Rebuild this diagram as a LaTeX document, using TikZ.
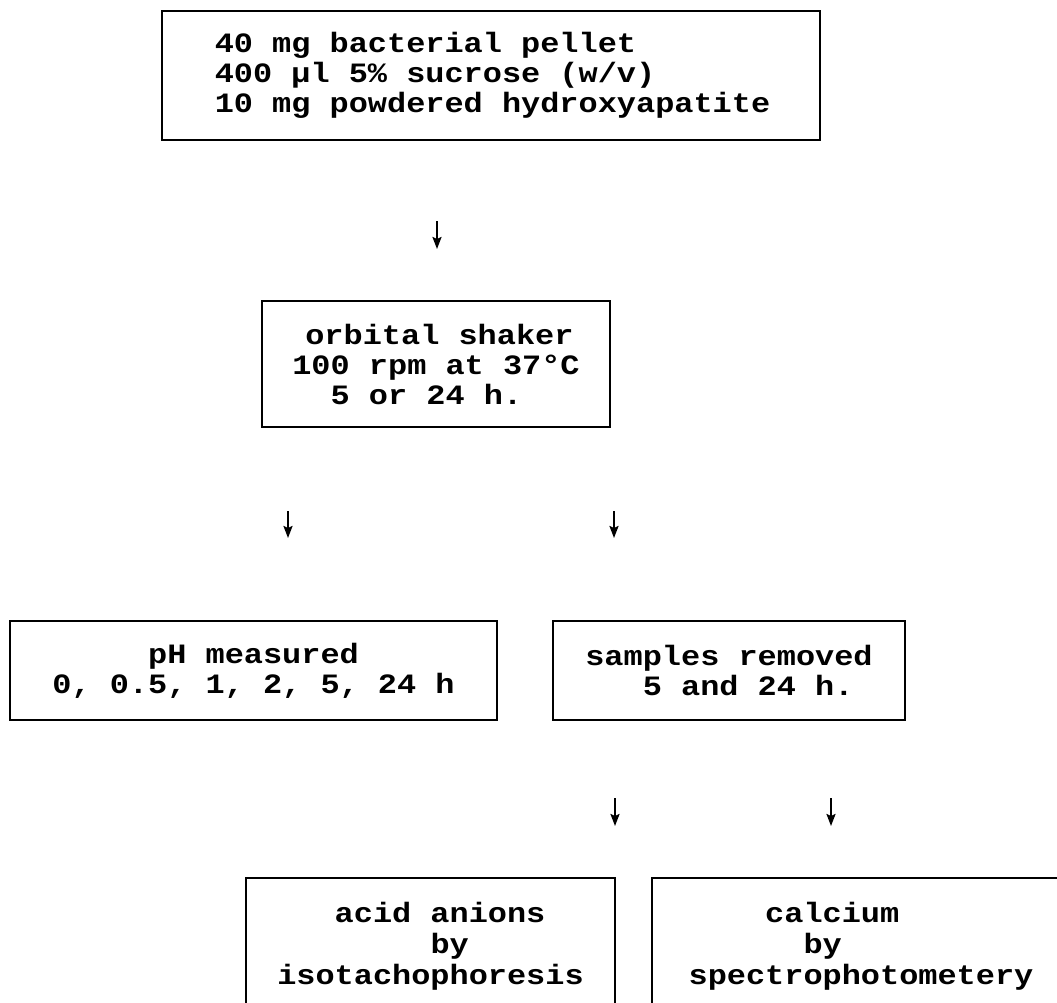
\documentclass[tikz,border=0pt]{standalone}
\usepackage{fontspec}
\newfontfamily\typefont{Liberation Mono}[FakeStretch=1.14]
\usetikzlibrary{arrows.meta,positioning}

\begin{document}
\begin{tikzpicture}[x=1pt,y=-1pt,->,>={Stealth[length=12pt,width=9pt,inset=2pt]},
      box node/.style={rectangle,draw,line width=2.8pt,inner sep=0pt,outer sep=0pt,
          font=\typefont\bfseries\fontsize{28}{30}\selectfont,align=center},
      low node/.style={box node,align=left,minimum height=136pt,
          font=\typefont\bfseries\fontsize{28}{31}\selectfont},
      flow arrow/.style={line width=2pt}]

    \useasboundingbox (0,0) rectangle (1057,1002);

    \node[box node,align=left,minimum width=658pt,minimum height=129pt] (mix) at (491,75.5)
      {\hspace*{3pt}40 mg bacterial pellet\\\hspace*{3pt}400 µl 5\% sucrose (w/v)\\\hspace*{3pt}10 mg powdered hydroxyapatite};
    \node[box node,align=left,minimum width=348pt,minimum height=126pt] (shk) [below=161pt of mix,xshift=-55pt]
      {\hspace*{13pt}orbital shaker\\100 rpm at 37°C\\~~5 or 24 h.};
    \node[box node,minimum width=487pt,minimum height=99pt] (ph) [below=194pt of shk,xshift=-182.5pt]
      {pH measured\\0, 0.5, 1, 2, 5, 24 h};
    \node[box node,align=left,minimum width=352pt,minimum height=99pt] (smp) [right=56pt of ph]
      {samples removed\\~~~5 and 24 h.};
    \node[low node,minimum width=369pt] (acid) [below=158pt of ph,xshift=177pt]
      {~~~acid anions\\~~~~~~~~by\\isotachophoresis};
    \node[low node,minimum width=418pt] (calc) [right=37pt of acid]
      {~~~~calcium\\~~~~~~by\\spectrophotometery};

    % free standing arrows between the boxes
    \coordinate (mix out) at (437,221);
    \coordinate (shk in) at (437,249);
    \coordinate (shk out l) at (288,511);
    \coordinate (ph in) at (288,538);
    \coordinate (shk out r) at (614,511);
    \coordinate (smp in) at (614,538);
    \coordinate (smp out l) at (615,798);
    \coordinate (acid in) at (615,826);
    \coordinate (smp out r) at (831,798);
    \coordinate (calc in) at (831,826);

    \draw[flow arrow] (mix out) -- (shk in);
    \draw[flow arrow] (shk out l) -- (ph in);
    \draw[flow arrow] (shk out r) -- (smp in);
    \draw[flow arrow] (smp out l) -- (acid in);
    \draw[flow arrow] (smp out r) -- (calc in);

  \end{tikzpicture}
\end{document}
